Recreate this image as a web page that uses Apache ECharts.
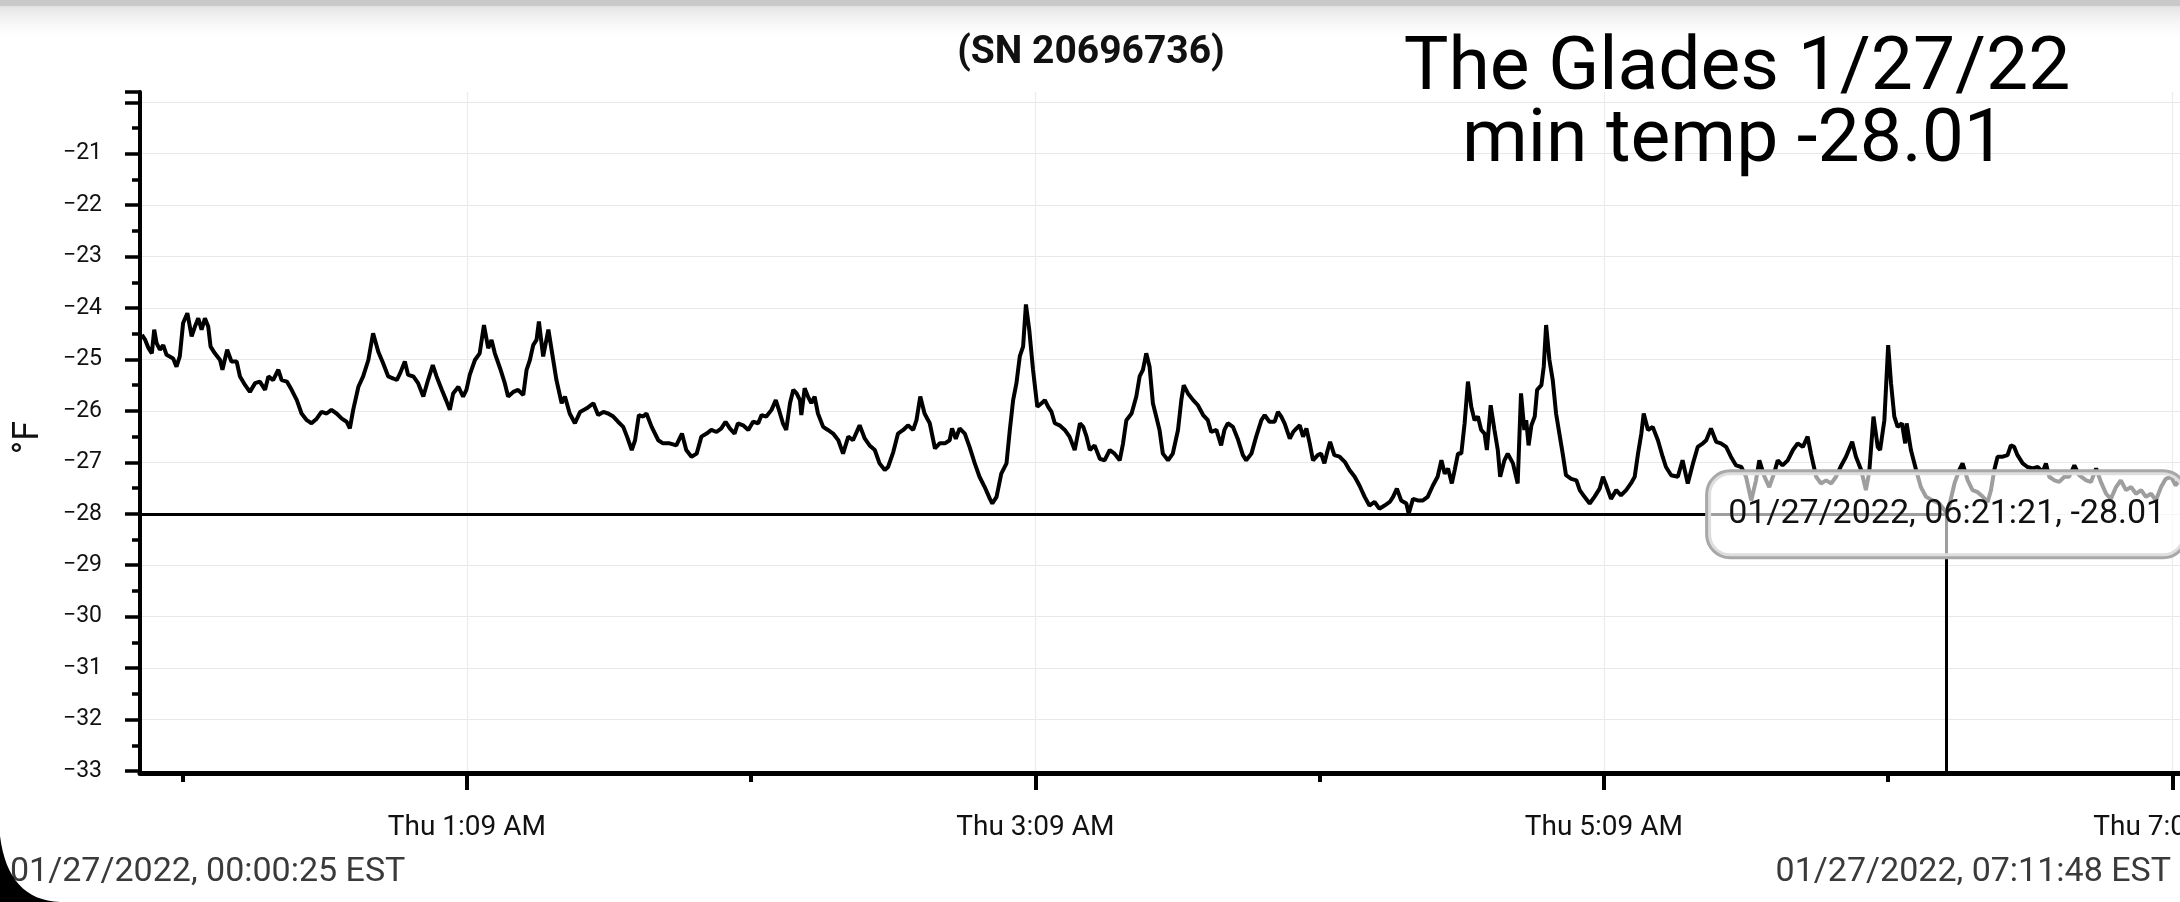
<!DOCTYPE html>
<html>
<head>
<meta charset="utf-8">
<script src="https://cdn.jsdelivr.net/npm/echarts@6/dist/echarts.min.js"></script>
<style>
html,body{margin:0;padding:0;background:#fff;}
#chart{width:2180px;height:902px;}
</style>
</head>
<body>
<div id="chart"></div>
<script>
// ---- data (minutes after midnight, 01/27/2022) ----
const sampleMinutes = [
0.4,1.1,1.8,2.5,3.0,3.5,4.2,4.9,5.6,7.0,7.7,8.4,9.1,10.0,10.9,11.6,12.3,13.0,13.7,14.4,14.9,15.8,16.9,17.4,18.4,19.3,20.4,21.1,22.2,23.2,24.3,25.3,26.4,27.1,28.1,29.2,29.9,31.0,32.0,33.1,34.1,35.2,36.2,37.3,38.3,39.4,40.4,41.5,42.6,43.6,44.3,45.0,46.1,47.1,48.2,49.2,50.3,51.3,52.4,53.5,54.2,54.9,55.9,56.6,57.7,58.7,59.8,60.8,61.8,62.6,63.7,64.6,65.4,66.1,67.2,68.2,68.9,69.6,70.7,71.7,72.6,73.5,74.2,74.9,76.0,77.0,77.7,78.8,79.8,80.9,81.6,82.3,83.0,83.7,84.2,85.1,86.2,87.1,87.9,89.0,89.7,90.7,91.8,92.9,94.3,95.7,96.7,97.8,98.8,99.9,100.9,102.0,102.8,103.8,104.5,105.3,106.2,106.9,108.0,109.4,
110.4,111.8,113.2,114.4,115.3,116.4,117.5,118.5,119.6,120.6,121.7,122.7,123.6,124.5,125.5,126.2,127.3,128.4,129.4,130.5,131.2,132.2,133.3,134.2,135.0,135.7,136.4,137.2,137.9,138.6,139.3,139.6,140.3,141.0,141.7,142.4,143.1,144.2,145.2,146.3,147.4,148.4,149.5,150.5,151.9,153.0,154.0,155.1,156.1,157.2,157.9,159.0,160.0,161.1,162.1,163.2,163.9,164.7,165.6,166.7,167.8,168.8,169.9,170.9,171.4,172.2,173.0,174.1,175.1,176.2,177.2,178.3,179.4,179.9,180.8,181.8,182.9,183.6,184.3,185.0,185.7,186.4,187.0,187.7,188.5,189.4,190.3,191.0,191.7,192.4,193.1,194.1,195.2,196.2,197.3,198.4,199.1,199.8,200.5,201.5,202.6,203.6,204.7,205.7,206.8,207.5,208.2,209.3,210.3,211.0,211.7,212.4,213.1,213.8,214.5,215.2,215.9,217.0,
218.0,219.1,219.8,220.3,221.2,222.3,223.3,224.4,225.4,226.1,227.2,228.2,228.9,229.6,230.7,231.7,232.8,233.5,234.6,235.6,236.7,237.4,238.4,239.5,240.2,240.9,241.6,242.7,243.4,244.1,244.8,245.5,246.2,246.9,247.6,248.6,249.3,250.0,250.7,251.2,252.1,253.2,254.3,255.3,256.4,257.4,258.5,259.5,260.6,261.6,262.7,263.8,264.5,265.3,266.2,267.3,267.8,268.7,269.7,270.8,271.8,272.9,273.9,274.7,275.4,276.1,276.9,277.5,278.2,278.9,279.6,280.3,281.0,281.7,282.4,283.1,283.8,284.3,285.1,285.9,286.6,287.1,288.0,288.7,289.8,290.8,291.5,292.2,292.6,293.1,293.7,294.4,294.9,295.8,296.3,296.8,297.5,298.2,298.9,299.6,300.3,301.0,302.1,303.2,303.9,304.9,306.0,307.0,308.1,308.8,309.5,310.5,311.6,312.6,313.7,314.7,315.5,316.2,316.9,317.4,318.3,319.3,320.4,321.4,322.1,323.2,324.6,
325.6,326.7,327.8,328.8,329.9,330.6,331.6,332.7,333.7,334.8,335.8,336.9,338.0,339.0,340.1,341.1,341.8,342.9,343.9,345.0,345.7,346.7,347.8,348.9,349.9,351.0,352.0,352.7,353.8,354.8,355.9,357.0,358.0,359.1,360.1,361.4,362.2,363.3,364.3,365.0,365.9,366.8,367.3,368.2,369.0,369.6,370.3,371.0,371.9,372.6,372.9,373.8,374.9,375.9,377.0,378.4,379.8,380.9,381.35,381.9,383.0,384.0,384.7,385.8,386.8,387.9,389.0,390.0,390.7,391.4,392.1,393.2,394.2,394.9,395.6,396.3,397.4,398.4,399.5,400.6,401.6,402.3,403.0,404.1,405.1,406.2,407.2,408.3,409.3,410.8,411.8,412.9,413.9,415.0,416.0,417.1,418.1,419.2,420.3,421.3,422.4,423.4,424.5,425.5,426.6,427.6,428.7,429.7,430.4,431.8
];
const tempF = [
-24.52,-24.62,-24.78,-24.88,-24.42,-24.68,-24.81,-24.72,-24.91,-24.98,-25.14,-24.94,-24.29,-24.10,-24.55,-24.36,-24.20,-24.42,-24.20,-24.36,-24.75,-24.88,-25.01,-25.20,-24.81,-25.04,-25.04,-25.33,-25.50,-25.63,-25.46,-25.43,-25.59,-25.33,-25.40,-25.20,-25.40,-25.43,-25.59,-25.79,-26.05,-26.18,-26.24,-26.15,-26.02,-26.05,-25.98,-26.05,-26.15,-26.21,-26.34,-25.98,-25.53,-25.33,-25.01,-24.49,-24.85,-25.07,-25.33,-25.37,-25.40,-25.27,-25.04,-25.30,-25.33,-25.46,-25.72,-25.40,-25.11,-25.33,-25.59,-25.79,-25.98,-25.66,-25.53,-25.72,-25.59,-25.30,-25.01,-24.88,-24.33,-24.78,-24.62,-24.88,-25.17,-25.46,-25.72,-25.63,-25.59,-25.69,-25.20,-25.01,-24.72,-24.62,-24.26,-24.94,-24.42,-24.94,-25.40,-25.85,-25.72,-26.05,-26.24,-26.02,-25.95,-25.85,-26.08,-26.02,-26.05,-26.11,-26.21,-26.31,-26.50,-26.76,-26.57,-26.08,-26.11,-26.05,-26.31,-26.57,
-26.63,-26.63,-26.67,-26.44,-26.76,-26.89,-26.83,-26.50,-26.44,-26.37,-26.41,-26.34,-26.21,-26.34,-26.44,-26.24,-26.28,-26.37,-26.21,-26.24,-26.08,-26.11,-25.98,-25.79,-26.02,-26.24,-26.37,-25.85,-25.59,-25.66,-25.79,-26.08,-25.56,-25.72,-25.85,-25.72,-26.05,-26.31,-26.37,-26.44,-26.57,-26.83,-26.50,-26.57,-26.28,-26.54,-26.67,-26.76,-27.02,-27.15,-27.09,-26.80,-26.44,-26.37,-26.28,-26.37,-26.18,-25.72,-26.05,-26.24,-26.73,-26.63,-26.63,-26.57,-26.34,-26.54,-26.34,-26.44,-26.70,-27.02,-27.28,-27.48,-27.71,-27.80,-27.67,-27.22,-27.02,-26.37,-25.79,-25.46,-24.94,-24.75,-23.93,-24.42,-25.20,-25.92,-25.85,-25.79,-25.92,-26.02,-26.24,-26.28,-26.37,-26.50,-26.76,-26.24,-26.31,-26.50,-26.76,-26.67,-26.93,-26.96,-26.76,-26.83,-26.96,-26.63,-26.18,-26.05,-25.72,-25.33,-25.20,-24.88,-25.14,-25.85,-26.11,-26.37,-26.83,-26.96,
-26.83,-26.37,-25.79,-25.50,-25.66,-25.79,-25.89,-26.08,-26.18,-26.41,-26.37,-26.67,-26.37,-26.24,-26.31,-26.54,-26.86,-26.96,-26.83,-26.50,-26.18,-26.08,-26.21,-26.21,-26.02,-26.11,-26.24,-26.54,-26.41,-26.34,-26.28,-26.50,-26.34,-26.63,-26.96,-26.86,-26.83,-27.02,-26.76,-26.60,-26.86,-26.89,-26.99,-27.15,-27.28,-27.45,-27.67,-27.84,-27.77,-27.90,-27.84,-27.77,-27.67,-27.51,-27.74,-27.80,-28.00,-27.71,-27.74,-27.74,-27.67,-27.45,-27.28,-26.96,-27.22,-27.12,-27.41,-27.15,-26.83,-26.83,-26.24,-25.43,-25.92,-26.18,-26.11,-26.37,-26.44,-26.76,-25.89,-26.37,-26.76,-27.28,-26.96,-26.83,-27.02,-27.41,-25.66,-26.37,-26.18,-26.67,-26.28,-26.11,-25.59,-25.50,-25.14,-24.33,-25.01,-25.40,-26.05,-26.44,-26.83,-27.25,-27.32,-27.35,-27.54,-27.67,-27.80,-27.67,-27.51,-27.28,-27.45,-27.71,-27.54,-27.64,-27.54,-27.41,-27.28,-26.83,-26.44,-26.05,-26.37,-26.31,-26.57,-26.89,-27.09,-27.25,-27.28,
-26.96,-27.41,-27.02,-26.70,-26.63,-26.57,-26.34,-26.60,-26.63,-26.70,-26.89,-27.06,-27.09,-27.28,-27.74,-27.35,-26.96,-27.28,-27.48,-27.19,-26.96,-27.06,-26.96,-26.76,-26.63,-26.70,-26.50,-26.83,-27.28,-27.41,-27.35,-27.41,-27.28,-27.06,-26.89,-26.60,-26.89,-27.15,-27.54,-27.19,-26.11,-26.70,-26.76,-26.18,-24.72,-25.46,-26.11,-26.31,-26.24,-26.63,-26.24,-26.76,-27.15,-27.48,-27.67,-27.74,-27.80,-27.93,-28.01,-27.84,-27.41,-27.15,-27.02,-27.35,-27.54,-27.58,-27.67,-27.77,-27.54,-27.15,-26.89,-26.89,-26.86,-26.67,-26.70,-26.86,-27.02,-27.09,-27.12,-27.09,-27.19,-27.02,-27.28,-27.35,-27.38,-27.28,-27.28,-27.06,-27.25,-27.35,-27.38,-27.12,-27.38,-27.61,-27.71,-27.48,-27.35,-27.54,-27.48,-27.61,-27.54,-27.67,-27.61,-27.74,-27.48,-27.32,-27.28,-27.45,-27.35,-27.30
];
const minReading = { minute: 381.35, value: -28.01, label: '01/27/2022, 06:21:21, -28.01' };
const xRange = [0, 430.6];
const yRange = [-33, -19.8];
const majorTickMinutes = [69, 189, 309, 429];
const minorTickMinutes = [9, 129, 249, 369];
const titleLines = ['The Glades 1/27/22', 'min temp -28.01'];
const serialText = '(SN 20696736)';
const startText = '01/27/2022, 00:00:25 EST';
const endText = '01/27/2022, 07:11:48 EST';
const yUnit = '°F';

const seriesData = sampleMinutes.map((m, i) => [m, tempF[i]]);
const FONT = 'Roboto, "Noto Sans", sans-serif';

function fmtTime(v) {
  const h = Math.floor(v / 60), m = Math.round(v - h * 60);
  const hh = h % 12 === 0 ? 12 : h % 12;
  return 'Thu ' + hh + ':' + (m < 10 ? '0' + m : m) + (h < 12 ? ' AM' : ' PM');
}
function fmtTemp(v) {
  if (v > -20.5) return '';
  const r = Math.round(v);
  return (r < 0 ? '\u2212' : '') + Math.abs(r);
}

// decorative rounded screen corner (bottom-left)
const cornerPts = [[0, 902]];
for (let i = 0; i <= 16; i++) {
  const t = i / 16;
  const x = 2 * (1 - t) * t * 8 + t * t * 60;
  const y = (1 - t) * (1 - t) * 836 + 2 * (1 - t) * t * 900 + t * t * 902;
  cornerPts.push([x, y]);
}

const chart = echarts.init(document.getElementById('chart'));
chart.setOption({
  animation: false,
  backgroundColor: '#ffffff',
  grid: { left: 140, right: 0, top: 92, bottom: 131, containLabel: false, outerBoundsMode: 'none' },
  xAxis: [{
    type: 'value', min: xRange[0], max: xRange[1], position: 'bottom', offset: 2,
    axisLine: { show: true, onZero: false, lineStyle: { color: '#000', width: 5 } },
    axisTick: { show: true, customValues: majorTickMinutes, length: 17, lineStyle: { color: '#000', width: 4 } },
    axisLabel: { show: true, customValues: majorTickMinutes, formatter: fmtTime, margin: 41,
      fontSize: 28, color: '#111', fontFamily: FONT, hideOverlap: false },
    splitLine: { show: true, lineStyle: { color: '#ececec', width: 1.2 } }
  }, {
    type: 'value', min: xRange[0], max: xRange[1], position: 'bottom', offset: 2,
    axisLine: { show: false },
    axisTick: { show: true, customValues: minorTickMinutes, length: 9, lineStyle: { color: '#000', width: 4 } },
    axisLabel: { show: false },
    splitLine: { show: false }
  }],
  yAxis: {
    type: 'value', min: yRange[0], max: yRange[1], interval: 1,
    name: yUnit, nameLocation: 'middle', nameRotate: 90, nameGap: 93,
    nameTextStyle: { fontSize: 36, color: '#111', fontFamily: FONT, padding: [0, 12, 0, 0] },
    axisLine: { show: true, onZero: false, lineStyle: { color: '#000', width: 4 } },
    axisTick: { show: true, length: 15, lineStyle: { color: '#000', width: 3.5 } },
    minorTick: { show: true, splitNumber: 2, length: 8, lineStyle: { color: '#000', width: 3.5 } },
    axisLabel: { margin: 38, fontSize: 23, color: '#111', fontFamily: FONT, formatter: fmtTemp },
    splitLine: { show: true, showMaxLine: false, lineStyle: { color: '#e8e8e8', width: 1.2 } }
  },
  series: [{
    type: 'line',
    data: seriesData,
    showSymbol: false,
    symbol: 'none',
    z: 2,
    lineStyle: { color: '#000', width: 4 },
    markLine: {
      z: 5, silent: true, symbol: 'none', animation: false,
      label: { show: false },
      lineStyle: { color: '#000', width: 3, type: 'solid' },
      data: [
        [{ coord: [xRange[0], minReading.value] }, { coord: [minReading.minute, minReading.value] }],
        [{ coord: [minReading.minute, minReading.value] }, { coord: [minReading.minute, yRange[0]] }]
      ]
    },
    markPoint: {
      z: 8, silent: true, symbol: 'circle', symbolSize: 1, animation: false,
      itemStyle: { color: 'rgba(0,0,0,0)' },
      label: {
        show: true, position: 'inside', formatter: () => minReading.label,
        fontSize: 34, fontFamily: FONT, color: '#111', lineHeight: 34,
        backgroundColor: 'rgba(255,255,255,0.62)', borderColor: '#a8a8a8', borderWidth: 3,
        borderRadius: 22, padding: [26, 20, 24, 20]
      },
      data: [{ coord: [minReading.minute, minReading.value] }]
    }
  }],
  graphic: [
    { type: 'rect', silent: true, z: 100, shape: { x: 0, y: 0, width: 2180, height: 6 }, style: { fill: '#c9c9c9' } },
    { type: 'rect', silent: true, z: 100, shape: { x: 0, y: 6, width: 2180, height: 38 },
      style: { fill: { type: 'linear', x: 0, y: 0, x2: 0, y2: 1, colorStops: [{ offset: 0, color: '#e3e3e3' }, { offset: 1, color: 'rgba(255,255,255,0)' }] } } },
    { type: 'text', silent: true, z: 100, x: 1091, y: 53,
      style: { text: serialText, font: 'bold 39px ' + FONT, fill: '#111', textAlign: 'center', textVerticalAlign: 'middle' } },
    { type: 'text', silent: true, z: 100, x: 1737, y: 70,
      style: { text: titleLines[0], font: '75px ' + FONT, fill: '#000', textAlign: 'center', textVerticalAlign: 'middle' } },
    { type: 'text', silent: true, z: 100, x: 1734, y: 142,
      style: { text: titleLines[1], font: '75px ' + FONT, fill: '#000', textAlign: 'center', textVerticalAlign: 'middle' } },
    { type: 'text', silent: true, z: 100, x: 10, y: 872,
      style: { text: startText, font: '34px ' + FONT, fill: '#3a3a3a', textAlign: 'left', textVerticalAlign: 'middle' } },
    { type: 'text', silent: true, z: 100, x: 2171, y: 872,
      style: { text: endText, font: '34px ' + FONT, fill: '#3a3a3a', textAlign: 'right', textVerticalAlign: 'middle' } },
    { type: 'polygon', silent: true, z: 101, shape: { points: cornerPts }, style: { fill: '#000' } }
  ]
});
</script>
</body>
</html>
